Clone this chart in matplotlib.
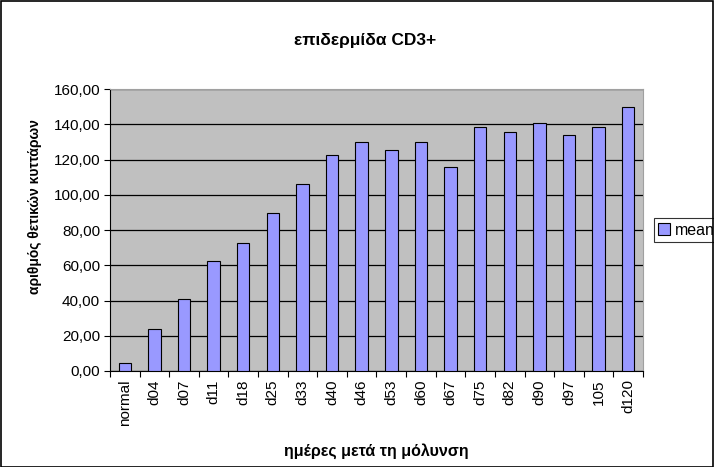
import numpy as np
import matplotlib
matplotlib.use('Agg')
import matplotlib.pyplot as plt
from matplotlib.patches import Rectangle
from matplotlib.ticker import FuncFormatter, FixedLocator

plt.rcParams['font.family'] = ['Liberation Sans', 'DejaVu Sans']

# data
days = ['normal', 'd04', 'd07', 'd11', 'd18', 'd25', 'd33', 'd40', 'd46', 'd53',
        'd60', 'd67', 'd75', 'd82', 'd90', 'd97', '105', 'd120']
mean = [4.4, 23.8, 41.0, 62.2, 72.4, 89.5, 106.1, 122.7, 130.1, 125.4,
        130.0, 116.1, 138.6, 135.6, 140.7, 134.1, 138.6, 149.8]
yticks = np.arange(0, 161, 20)

fig = plt.figure(figsize=(7.14, 4.67), dpi=100)
ax = fig.add_axes([0.154, 0.2056, 0.7466, 0.6034])
fig.patches.append(Rectangle((0.001, 0.001), 0.997, 0.997, transform=fig.transFigure,
                             fill=False, edgecolor='black', linewidth=1.2))

x = np.arange(len(days))
ax.set_facecolor('#C0C0C0')
ax.bar(x, mean, width=0.42, color='#9999FF', edgecolor='black', linewidth=0.8,
       label='mean', zorder=3)

ax.set_xlim(-0.5, len(days) - 0.5)
ax.set_ylim(0, 160)
ax.set_yticks(yticks)
ax.yaxis.set_major_formatter(FuncFormatter(lambda v, p: ('%.2f' % v).replace('.', ',')))
ax.yaxis.grid(True, color='black', linewidth=0.9, zorder=1)
ax.set_axisbelow(True)

# category labels between boundary ticks, Excel style
ax.set_xticks(x)
ax.set_xticklabels(days, rotation=90, fontsize=11)
ax.tick_params(axis='x', which='major', length=0, pad=6)
ax.xaxis.set_minor_locator(FixedLocator(np.arange(-0.5, len(days), 1)))
ax.tick_params(axis='x', which='minor', length=4, direction='out', width=0.8)
ax.tick_params(axis='y', labelsize=11, length=4, direction='out', width=0.8, pad=3)

for s in ['top', 'right']:
    ax.spines[s].set_color('#A0A0A0')
for s in ['left', 'bottom']:
    ax.spines[s].set_color('black')

fig.text(365 / 714, 1 - 40 / 467, 'επιδερμίδα CD3+', fontsize=12.5, fontweight='bold',
         ha='center', va='center')
ax.set_ylabel('αριθμός θετικών κυττάρων', fontsize=10, fontweight='bold')
ax.yaxis.set_label_coords(-0.128, 0.585)
ax.set_xlabel('ημέρες μετά τη μόλυνση', fontsize=11.5, fontweight='bold')
ax.xaxis.set_label_coords(0.5, -0.255)

leg = ax.legend(loc='center left', bbox_to_anchor=(1.02, 0.5), fontsize=11.5,
                frameon=True, fancybox=False, handlelength=0.7, handleheight=0.7,
                handletextpad=0.3, borderpad=0.3, borderaxespad=0)
leg.get_frame().set_edgecolor('black')
leg.get_frame().set_linewidth(0.8)

fig.savefig('out.png', dpi=100)
